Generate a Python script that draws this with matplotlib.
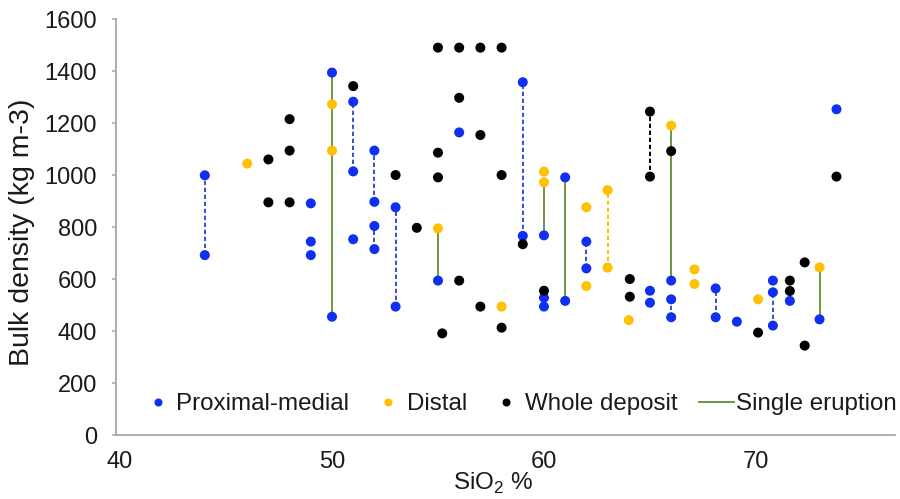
import numpy as np
import matplotlib
matplotlib.use("Agg")
import matplotlib.pyplot as plt
from matplotlib.lines import Line2D

plt.rcParams["font.family"] = ["Liberation Sans", "DejaVu Sans"]
plt.rcParams["mathtext.fontset"] = "custom"
plt.rcParams["mathtext.rm"] = "Liberation Sans"

# Proximal-medial samples (SiO2 %, bulk density kg m-3)
prox_x = [44, 44, 49, 49, 49, 50, 50, 51, 51, 51, 52, 52, 52, 52, 53, 53, 55, 56,
          59, 59, 60, 60, 60, 61, 61, 62, 62, 65, 65, 66, 66, 66, 68.1, 68.1, 69.1,
          70.8, 70.8, 70.8, 71.6, 73, 73.8]
prox_y = [1000, 693, 892, 745, 693, 1395, 456, 1283, 1015, 754, 1095, 898, 805, 716,
          877, 495, 595, 1165, 1358, 767, 769, 529, 495, 992, 517, 745, 642, 556, 510,
          595, 523, 454, 565, 454, 437, 595, 550, 422, 517, 446, 1254]

# Distal samples
distal_x = [46, 50, 50, 55, 58, 60, 60, 62, 62, 63, 63, 64, 66, 67.1, 67.1, 70.1, 73]
distal_y = [1045, 1273, 1095, 796, 495, 1014, 973, 877, 574, 943, 645, 443, 1191,
            638, 582, 523, 646]

# Whole deposit samples
whole_x = [47, 47, 48, 48, 48, 51, 53, 54, 55, 55, 55, 55.2, 56, 56, 56, 57, 57, 57,
           58, 58, 58, 59, 60, 64.05, 64.05, 65, 65, 66, 70.1, 71.6, 71.6, 72.3, 72.3,
           73.8]
whole_y = [1061, 896, 1216, 1095, 896, 1343, 1001, 798, 1491, 1087, 992, 392, 1491,
           1298, 595, 1491, 1155, 495, 1491, 1001, 414, 735, 556, 601, 533, 1245, 995,
           1093, 395, 595, 555, 665, 345, 995]

# single eruption links (x, low, high)
single_x = [50, 55, 60, 61, 66, 73]
single_lo = [456, 595, 769, 517, 595, 446]
single_hi = [1395, 796, 973, 992, 1191, 646]

# range links within one deposit type
prox_link_x = [44, 51, 52, 52, 53, 59, 62, 66, 68.1, 70.8]
prox_link_lo = [693, 1015, 898, 716, 495, 767, 642, 454, 454, 422]
prox_link_hi = [1000, 1283, 1095, 805, 877, 1358, 745, 523, 565, 550]
distal_link_x = [63]
distal_link_lo = [645]
distal_link_hi = [943]
whole_link_x = [65]
whole_link_lo = [995]
whole_link_hi = [1245]

blue = "#0f30f0"
yellow = "#ffc000"
green = "#6f9445"
grey = "#a8a8a8"
txt = "#1a1a1a"
fs = 17

fig = plt.figure(figsize=(9, 4.99), dpi=100)
ax = fig.add_axes([116 / 900, 1 - 435.3 / 499, 779 / 900, 416 / 499])

dash = (0, (2.2, 1.4))
ax.vlines(prox_link_x, prox_link_lo, prox_link_hi, colors="#3a4fd6", linestyles=dash, linewidth=1.4, zorder=1)
ax.vlines(distal_link_x, distal_link_lo, distal_link_hi, colors=yellow, linestyles=dash, linewidth=1.4, zorder=1)
ax.vlines(whole_link_x, whole_link_lo, whole_link_hi, colors="black", linestyles=dash, linewidth=1.4, zorder=1)
ax.vlines(single_x, single_lo, single_hi, colors=green, linewidth=1.4, zorder=1)

ms = 52
ax.scatter(prox_x, prox_y, s=ms, color=blue, edgecolors="none", zorder=3)
ax.scatter(distal_x, distal_y, s=ms, color=yellow, edgecolors="none", zorder=3)
ax.scatter(whole_x, whole_y, s=ms, color="black", edgecolors="none", zorder=3)

ax.set_xlim(39.81, 76.56)
ax.set_ylim(0, 1600)
ax.set_xticks([40, 50, 60, 70])
ax.set_yticks(np.arange(0, 1601, 200))
for s in ["top", "right"]:
    ax.spines[s].set_visible(False)
for s in ["left", "bottom"]:
    ax.spines[s].set_color(grey)
    ax.spines[s].set_linewidth(1.3)
ax.tick_params(axis="x", length=0, pad=11, labelsize=fs, labelcolor=txt)
ax.tick_params(axis="y", length=3, width=1.1, color=grey, pad=10.5, labelsize=fs, labelcolor=txt)

fig.text(22 / 900, 1 - 232 / 499, "Bulk density (kg m-3)", rotation=90, ha="center", va="center",
         fontsize=20.5, color=txt)
fig.text(493 / 900, 1 - 490 / 499, r"SiO$_\mathregular{2}$ %", ha="center", va="baseline",
         fontsize=17.5, color=txt)

handles = [
    Line2D([], [], ls="none", marker="o", markersize=4.8, color=blue),
    Line2D([], [], ls="none", marker="o", markersize=4.8, color=yellow),
    Line2D([], [], ls="none", marker="o", markersize=4.8, color="black"),
    Line2D([], [], color=green, linewidth=1.4),
]
labels = ["Proximal-medial", "Distal", "Whole deposit", "Single eruption"]
leg = fig.legend(handles, labels, loc="center left", bbox_to_anchor=(140 / 900, 1 - 404 / 499),
                 ncol=4, frameon=False, fontsize=17.4, handlelength=1.45, handletextpad=0.06,
                 columnspacing=0.88, borderpad=0, borderaxespad=0)
for t in leg.get_texts():
    t.set_color(txt)

fig.savefig("out.png", dpi=100)
